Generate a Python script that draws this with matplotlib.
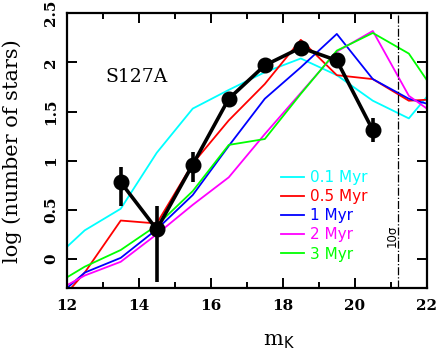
import matplotlib
matplotlib.use("Agg")
import matplotlib.pyplot as plt
from matplotlib.ticker import MultipleLocator, FuncFormatter

# observed K luminosity function of S127A
mag_obs = [13.5, 14.5, 15.5, 16.5, 17.5, 18.5, 19.5, 20.5]
logn_obs = [0.78, 0.30, 0.96, 1.63, 1.97, 2.15, 2.02, 1.31]
err_lo = [0.24, 0.54, 0.18, 0.07, 0.05, 0.04, 0.04, 0.12]
err_hi = [0.15, 0.24, 0.13, 0.06, 0.04, 0.03, 0.04, 0.12]

# model luminosity functions for several ages
mag_mod = [12, 12.5, 13.5, 14.5, 15.5, 16.5, 17.5, 18.5, 19.5, 20.5, 21.5, 22]
model_01 = [0.12, 0.29, 0.51, 1.08, 1.53, 1.72, 1.90, 2.04, 1.87, 1.61, 1.43, 1.65]
model_05 = [-0.35, -0.14, 0.39, 0.36, 0.97, 1.41, 1.78, 2.23, 1.87, 1.83, 1.61, 1.62]
model_1 = [-0.30, -0.14, 0.01, 0.30, 0.65, 1.15, 1.63, 1.95, 2.29, 1.83, 1.63, 1.58]
model_2 = [-0.27, -0.17, -0.03, 0.25, 0.55, 0.83, 1.27, 1.69, 2.11, 2.32, 1.66, 1.53]
model_3 = [-0.19, -0.08, 0.09, 0.34, 0.69, 1.16, 1.22, 1.68, 2.12, 2.30, 2.09, 1.82]
ages = ["0.1 Myr", "0.5 Myr", "1 Myr", "2 Myr", "3 Myr"]
colors = ["#00ffff", "#ff0000", "#0000ff", "#ff00ff", "#00ff00"]

limit_10sigma = 21.2

fig = plt.figure(figsize=(4.36, 3.54), dpi=100)
ax = fig.add_axes([0.153, 0.1856, 0.826, 0.7768])

models = [model_01, model_05, model_1, model_2, model_3]
for vals, lab, c in zip(models, ages, colors):
    ax.plot(mag_mod, vals, color=c, lw=1.3, label=lab)

ax.errorbar(mag_obs, logn_obs, yerr=[err_lo, err_hi], color="black", lw=2.6,
            elinewidth=2.6, capsize=0, marker="o", ms=10.5, zorder=5)

ax.axvline(limit_10sigma, color="black", lw=0.9, ls="-.")
ax.text(21.03, 0.23, "10σ", rotation=90, ha="center", va="center", fontsize=8.5,
        family="DejaVu Sans")

ax.text(13.95, 1.85, "S127A", ha="center", va="center", fontsize=13.5,
        family="DejaVu Serif")

leg = ax.legend(loc="upper left", bbox_to_anchor=(0.594, 0.43), frameon=False,
                handlelength=1.5, handletextpad=0.45,
                labelspacing=0.27, borderaxespad=0, borderpad=0,
                prop={"family": "DejaVu Sans", "size": 11})
for txt, c in zip(leg.get_texts(), colors):
    txt.set_color(c)

ax.set_xlim(12, 22)
ax.set_ylim(-0.3, 2.5)
ax.xaxis.set_major_locator(MultipleLocator(2))
ax.xaxis.set_minor_locator(MultipleLocator(1))
ax.yaxis.set_major_locator(MultipleLocator(0.5))
ax.yaxis.set_major_formatter(FuncFormatter(lambda v, p: f"{v:g}"))
ax.tick_params(which="both", direction="in", top=True, right=True, width=1.4)
ax.tick_params(which="major", length=7)
ax.tick_params(which="minor", length=4)
ax.tick_params(axis="x", pad=8)
ax.tick_params(axis="y", pad=6)
for lab in ax.get_xticklabels() + ax.get_yticklabels():
    lab.set_family("DejaVu Serif")
    lab.set_fontsize(11)
    lab.set_fontweight("bold")
for lab in ax.get_yticklabels():
    lab.set_rotation(90)
    lab.set_va("center")
for s in ax.spines.values():
    s.set_linewidth(1.6)

ax.set_ylabel("log (number of stars)", family="DejaVu Serif", fontsize=15)
ax.yaxis.set_label_coords(-0.125, 0.5)
ax.set_xlabel(r"m$_{\rm K}$", family="DejaVu Serif", fontsize=15)
ax.xaxis.set_label_coords(0.59, -0.16)

fig.savefig("out.png", dpi=100)
